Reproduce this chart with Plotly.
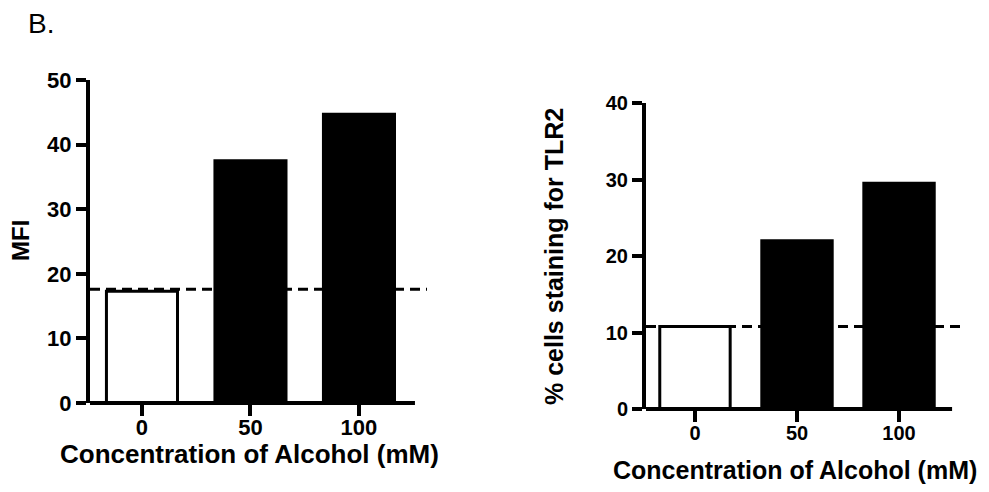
import plotly.graph_objects as go

W, H = 989, 492

# ---- data ----
categories = ["0", "50", "100"]
mfi_values = [17.3, 37.5, 44.7]
mfi_baseline = 17.6
tlr2_values = [10.8, 22.0, 29.5]
tlr2_baseline = 10.8
mfi_ticks = [0, 10, 20, 30, 40, 50]
tlr2_ticks = [0, 10, 20, 30, 40]

FONT = "Liberation Sans, Arial, Helvetica, sans-serif"
bar_fill = ["white", "black", "black"]


def px_x(p):
    return p / W


def px_y(p):
    return 1 - p / H


fig = go.Figure()

fig.add_trace(go.Bar(
    x=[0, 1, 2], y=mfi_values, width=0.655,
    marker=dict(color=bar_fill, line=dict(color="black", width=3)),
    xaxis="x", yaxis="y", showlegend=False, hoverinfo="skip",
))
fig.add_trace(go.Bar(
    x=[0, 1, 2], y=tlr2_values, width=0.69,
    marker=dict(color=bar_fill, line=dict(color="black", width=3)),
    xaxis="x2", yaxis="y2", showlegend=False, hoverinfo="skip",
))


def tickfont(size):
    return dict(family=FONT, size=size, color="black", weight="bold")


def yax(size):
    return dict(
        showline=True, linewidth=4, linecolor="black",
        ticks="outside", ticklen=10, tickwidth=4, tickcolor="black",
        showgrid=False, zeroline=False, tickfont=tickfont(size), automargin=False,
        fixedrange=True,
    )


def xax(size, standoff):
    return dict(
        showline=False,
        ticks="outside", ticklen=12, tickwidth=4, tickcolor="black",
        showgrid=False, zeroline=False, tickfont=tickfont(size), automargin=False,
        tickmode="array", tickvals=[0, 1, 2], ticktext=categories,
        ticklabelstandoff=standoff, fixedrange=True,
    )


# panel geometry
L_dom_x = [px_x(90), px_x(427)]
L_dom_y = [px_y(403), px_y(80)]
R_dom_x = [px_x(646), px_x(963)]
R_dom_y = [px_y(409), px_y(103)]

fig.update_layout(
    width=W, height=H,
    margin=dict(l=0, r=0, t=0, b=0, autoexpand=False),
    paper_bgcolor="white", plot_bgcolor="white",
    bargap=0,
    xaxis=dict(domain=L_dom_x, range=[-0.479, 2.627], anchor="y", **xax(22, -7)),
    yaxis=dict(domain=L_dom_y, range=[0, 50], anchor="x",
               tickvals=mfi_ticks, **yax(22)),
    xaxis2=dict(domain=R_dom_x, range=[-0.480, 2.627], anchor="y2", **xax(20, -6)),
    yaxis2=dict(domain=R_dom_y, range=[0, 40], anchor="x2",
                tickvals=tlr2_ticks, **yax(20)),
)

# x-axis lines (end before the dashed line does)
fig.add_shape(type="line", xref="x", yref="paper",
              x0=-0.516, x1=2.516, y0=L_dom_y[0], y1=L_dom_y[0],
              line=dict(color="black", width=4))
fig.add_shape(type="line", xref="x2", yref="paper",
              x0=-0.52, x1=2.52, y0=R_dom_y[0], y1=R_dom_y[0],
              line=dict(color="black", width=4))

# dashed baseline lines
fig.add_shape(type="line", xref="x", yref="y",
              x0=-0.479, x1=2.627, y0=mfi_baseline, y1=mfi_baseline,
              line=dict(color="black", width=3, dash="10px,6px"))
fig.add_shape(type="line", xref="x2", yref="y2",
              x0=-0.480, x1=2.627, y0=tlr2_baseline, y1=tlr2_baseline,
              line=dict(color="black", width=3, dash="10px,6px"))


def tfont(size):
    return dict(family=FONT, size=size, color="black", weight="bold")


fig.add_annotation(text="B.", xref="paper", yref="paper",
                   x=px_x(26), y=px_y(23), xanchor="left", yanchor="middle",
                   showarrow=False,
                   font=dict(family=FONT, size=28, color="black"))
fig.add_annotation(text="Concentration of Alcohol (mM)", xref="paper", yref="paper",
                   x=px_x(249), y=px_y(454), xanchor="center", yanchor="middle",
                   showarrow=False, font=tfont(26))
fig.add_annotation(text="Concentration of Alcohol (mM)", xref="paper", yref="paper",
                   x=px_x(795), y=px_y(470), xanchor="center", yanchor="middle",
                   showarrow=False, font=tfont(25))
fig.add_annotation(text="MFI", xref="paper", yref="paper",
                   x=px_x(21), y=px_y(241), xanchor="center", yanchor="middle",
                   textangle=-90, showarrow=False, font=tfont(24))
fig.add_annotation(text="% cells staining for TLR2", xref="paper", yref="paper",
                   x=px_x(554), y=px_y(257), xanchor="center", yanchor="middle",
                   textangle=-90, showarrow=False, font=tfont(25))

fig.write_html("out.html",
               config={"displayModeBar": False, "staticPlot": True},
               post_script="document.body.style.margin='0';document.body.style.overflow='hidden';")
